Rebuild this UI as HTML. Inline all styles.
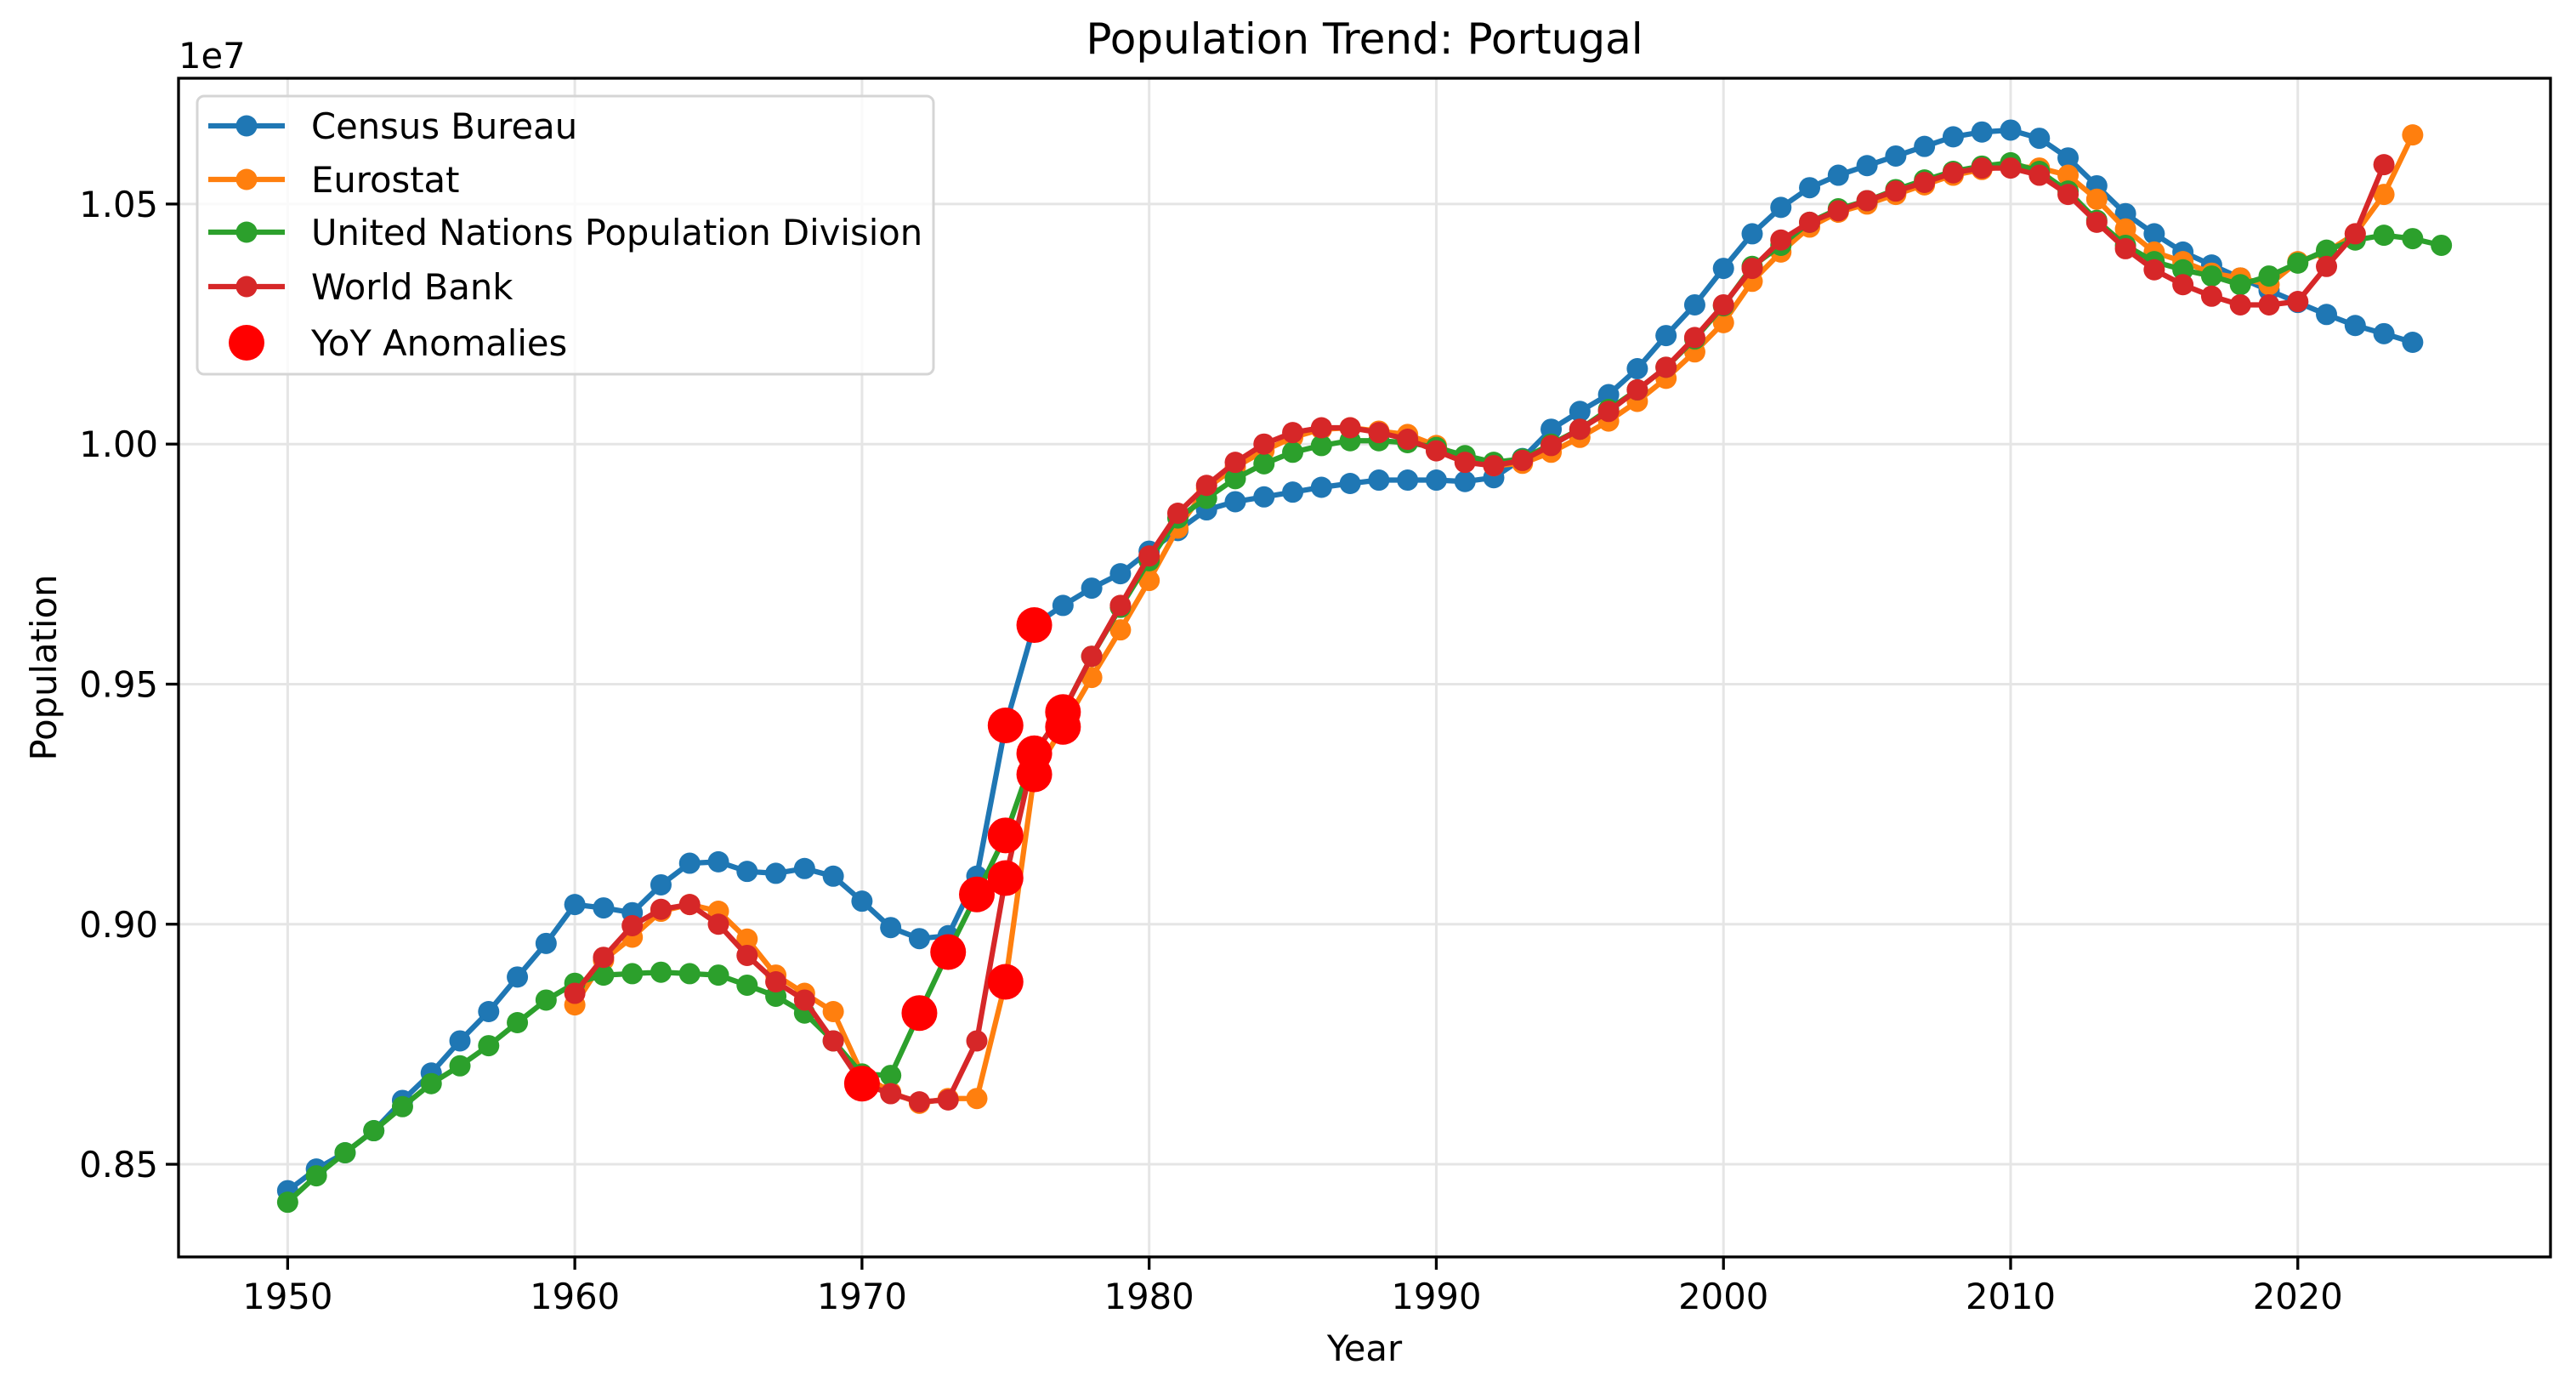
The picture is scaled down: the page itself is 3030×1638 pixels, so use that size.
<!DOCTYPE html>
<html><head><meta charset="utf-8"><style>
html,body{margin:0;padding:0;background:#fff;}
svg{display:block;font-family:"DejaVu Sans","Liberation Sans",sans-serif;}
</style></head><body>
<svg id="chart" width="3030" height="1638" viewBox="0 0 3030 1638" xmlns="http://www.w3.org/2000/svg">
<rect x="0" y="0" width="3030" height="1638" fill="#fff"/>
<text x="1605" y="63" font-size="50" text-anchor="middle">Population Trend: Portugal</text>
<g id="grid"></g>
<g id="series"></g>
<g id="axes"></g>
<text x="210" y="80" font-size="41.7">1e7</text>
<text x="1605" y="1600" font-size="41.7" text-anchor="middle">Year</text>
<text transform="translate(66,785) rotate(-90)" font-size="41.7" text-anchor="middle">Population</text>
<g id="legend"></g>
</svg>
<script>
const censusYears = [1950,1951,1952,1953,1954,1955,1956,1957,1958,1959,1960,1961,1962,1963,1964,1965,1966,1967,1968,1969,1970,1971,1972,1973,1974,1975,1976,1977,1978,1979,1980,1981,1982,1983,1984,1985,1986,1987,1988,1989,1990,1991,1992,1993,1994,1995,1996,1997,1998,1999,2000,2001,2002,2003,2004,2005,2006,2007,2008,2009,2010,2011,2012,2013,2014,2015,2016,2017,2018,2019,2020,2021,2022,2023,2024];
const censusValues = [0.8445,0.849,0.8524,0.857,0.8633,0.869,0.8757,0.8818,0.889,0.896,0.9041,0.9034,0.9024,0.9082,0.9127,0.913,0.911,0.9106,0.9116,0.910,0.9048,0.8993,0.897,0.8976,0.910,0.9414,0.9623,0.9664,0.970,0.973,0.9777,0.982,0.9863,0.988,0.989,0.990,0.991,0.9918,0.9925,0.9925,0.9925,0.9922,0.993,0.997,1.0031,1.0068,1.0103,1.0157,1.0226,1.029,1.0366,1.0438,1.0493,1.0534,1.056,1.058,1.060,1.062,1.064,1.065,1.0654,1.0637,1.0596,1.0538,1.048,1.0438,1.040,1.0373,1.0346,1.032,1.0295,1.027,1.0247,1.023,1.0212];
const eurostatYears = [1960,1961,1962,1963,1964,1965,1966,1967,1968,1969,1970,1971,1972,1973,1974,1975,1976,1977,1978,1979,1980,1981,1982,1983,1984,1985,1986,1987,1988,1989,1990,1991,1992,1993,1994,1995,1996,1997,1998,1999,2000,2001,2002,2003,2004,2005,2006,2007,2008,2009,2010,2011,2012,2013,2014,2015,2016,2017,2018,2019,2020,2021,2022,2023,2024];
const eurostatValues = [0.8832,0.8925,0.8973,0.9027,0.9041,0.9027,0.8969,0.8894,0.8856,0.8818,0.8688,0.865,0.8627,0.8637,0.8637,0.888,0.9312,0.9411,0.9514,0.9613,0.9716,0.9825,0.9908,0.9952,0.9986,1.0014,1.0031,1.0034,1.0027,1.002,0.9997,0.997,0.9955,0.996,0.9983,1.0014,1.0048,1.0089,1.0137,1.0192,1.0253,1.0339,1.040,1.0452,1.0483,1.050,1.052,1.054,1.056,1.0572,1.0579,1.0575,1.056,1.051,1.0448,1.040,1.038,1.0356,1.0346,1.0332,1.038,1.040,1.0438,1.052,1.0644];
const unYears = [1950,1951,1952,1953,1954,1955,1956,1957,1958,1959,1960,1961,1962,1963,1964,1965,1966,1967,1968,1969,1970,1971,1972,1973,1974,1975,1976,1977,1978,1979,1980,1981,1982,1983,1984,1985,1986,1987,1988,1989,1990,1991,1992,1993,1994,1995,1996,1997,1998,1999,2000,2001,2002,2003,2004,2005,2006,2007,2008,2009,2010,2011,2012,2013,2014,2015,2016,2017,2018,2019,2020,2021,2022,2023,2024,2025];
const unValues = [0.8421,0.8476,0.8524,0.857,0.862,0.8668,0.8705,0.8747,0.8795,0.8842,0.8877,0.8894,0.8897,0.890,0.8897,0.8894,0.8873,0.885,0.8815,0.8757,0.8688,0.8685,0.8815,0.8942,0.9062,0.9185,0.9356,0.9442,0.9558,0.966,0.9757,0.9846,0.9887,0.9928,0.9959,0.9983,0.9997,1.0007,1.0007,1.0003,0.9993,0.9976,0.9962,0.9969,1.000,1.0031,1.0072,1.0113,1.016,1.0219,1.0288,1.037,1.0414,1.0462,1.049,1.0507,1.053,1.055,1.0568,1.0579,1.0586,1.0568,1.0527,1.0466,1.0414,1.038,1.0363,1.035,1.0332,1.035,1.0377,1.0404,1.0425,1.0435,1.0428,1.0414];
const wbYears = [1960,1961,1962,1963,1964,1965,1966,1967,1968,1969,1970,1971,1972,1973,1974,1975,1976,1977,1978,1979,1980,1981,1982,1983,1984,1985,1986,1987,1988,1989,1990,1991,1992,1993,1994,1995,1996,1997,1998,1999,2000,2001,2002,2003,2004,2005,2006,2007,2008,2009,2010,2011,2012,2013,2014,2015,2016,2017,2018,2019,2020,2021,2022,2023];
const wbValues = [0.8856,0.8931,0.8997,0.9031,0.9041,0.900,0.8935,0.888,0.8842,0.8757,0.8668,0.8647,0.863,0.8634,0.8757,0.9096,0.9356,0.9442,0.9558,0.9664,0.9767,0.9856,0.9914,0.9962,1.000,1.0024,1.0034,1.0034,1.0024,1.001,0.9986,0.9962,0.9955,0.9966,0.9997,1.0031,1.0068,1.0113,1.016,1.0222,1.029,1.0366,1.0425,1.0462,1.0486,1.0507,1.0527,1.0545,1.0565,1.0575,1.0575,1.056,1.052,1.0462,1.0407,1.0363,1.0332,1.0308,1.029,1.029,1.0297,1.037,1.0438,1.0582];
const anomalyYears = [1970,1972,1973,1974,1975,1975,1975,1975,1976,1976,1976,1977,1977];
const anomalyValues = [0.8668,0.8815,0.8942,0.9062,0.9414,0.9185,0.9096,0.888,0.9623,0.9356,0.9312,0.9442,0.9411];
const xTicks = [1950,1960,1970,1980,1990,2000,2010,2020];
const yTicks = [0.85,0.90,0.95,1.00,1.05];
const yTickLabels = ["0.85","0.90","0.95","1.00","1.05"];
const seriesNames = ["Census Bureau","Eurostat","United Nations Population Division","World Bank"];

const NS = "http://www.w3.org/2000/svg";
const L = 210, R = 3000, T = 92, B = 1478;
const xMin = 1946.2, xMax = 2028.8, yMin = 0.8307, yMax = 1.0762;
function sx(v){ return L + (v - xMin) / (xMax - xMin) * (R - L); }
function sy(v){ return B - (v - yMin) / (yMax - yMin) * (B - T); }
function mk(tag, attrs, parent){ const e = document.createElementNS(NS, tag); for (const k in attrs) e.setAttribute(k, attrs[k]); parent.appendChild(e); return e; }

const grid = document.getElementById('grid');
const axes = document.getElementById('axes');
xTicks.forEach(t => {
  const x = sx(t);
  const g = mk('line', {x1:x, x2:x, y1:T, y2:B, stroke:'#e5e5e5', 'stroke-width':3}, grid);
  
  
  const tk = mk('line', {x1:x, x2:x, y1:B, y2:B+15, stroke:'#000', 'stroke-width':3.3}, axes);
  
  
  const lb = mk('text', {x:x, y:B+61, 'font-size':41.7, 'text-anchor':'middle'}, axes);
  lb.textContent = t;
  
  
});
yTicks.forEach((t, i) => {
  const y = sy(t);
  const g = mk('line', {x1:L, x2:R, y1:y, y2:y, stroke:'#e5e5e5', 'stroke-width':3}, grid);
  
  
  const tk = mk('line', {x1:L-15, x2:L, y1:y, y2:y, stroke:'#000', 'stroke-width':3.3}, axes);
  
  
  const lb = mk('text', {x:L-24, y:y+15, 'font-size':41.7, 'text-anchor':'end'}, axes);
  lb.textContent = yTickLabels[i];
  
  
});
const frame = mk('rect', {x:L, y:T, width:R-L, height:B-T, fill:'none', stroke:'#000', 'stroke-width':3.3}, axes);



const colors = ['#1f77b4','#ff7f0e','#2ca02c','#d62728'];
const allYears = [censusYears, eurostatYears, unYears, wbYears];
const allVals = [censusValues, eurostatValues, unValues, wbValues];
const seriesG = document.getElementById('series');
const slugs = ['census-bureau','eurostat','un-population-division','world-bank'];
allYears.forEach((ys, s) => {
  const g = mk('g', {}, seriesG);
  
  
  const pts = ys.map((y, i) => sx(y).toFixed(1) + ',' + sy(allVals[s][i]).toFixed(1)).join(' ');
  const pl = mk('polyline', {points:pts, fill:'none', stroke:colors[s], 'stroke-width':6.25, 'stroke-linejoin':'round'}, g);
  
  
  ys.forEach((y, i) => {
    const c = mk('circle', {cx:sx(y), cy:sy(allVals[s][i]), r:12.5, fill:colors[s]}, g);
    
    
  });
});
anomalyYears.forEach((y, i) => {
  const c = mk('circle', {cx:sx(y), cy:sy(anomalyValues[i]), r:21, fill:'#ff0000'}, seriesG);
  
  
});

const leg = document.getElementById('legend');
mk('rect', {x:232, y:113, width:866, height:327, rx:8, fill:'#fff', 'fill-opacity':0.8, stroke:'#d5d5d5', 'stroke-width':3}, leg);
const rowY = [148,211,273,337,403];
seriesNames.forEach((n, i) => {
  const g = mk('g', {}, leg);
  
  
  mk('line', {x1:245, x2:335, y1:rowY[i], y2:rowY[i], stroke:colors[i], 'stroke-width':6.25}, g);
  mk('circle', {cx:290, cy:rowY[i], r:12.5, fill:colors[i]}, g);
  const t = mk('text', {x:366, y:rowY[i]+15, 'font-size':41.7}, g);
  t.textContent = n;
});
const ga = mk('g', {}, leg);


mk('circle', {cx:290, cy:rowY[4], r:21, fill:'#ff0000'}, ga);
const ta = mk('text', {x:366, y:rowY[4]+15, 'font-size':41.7}, ga);
ta.textContent = 'YoY Anomalies';
</script>
</body></html>
